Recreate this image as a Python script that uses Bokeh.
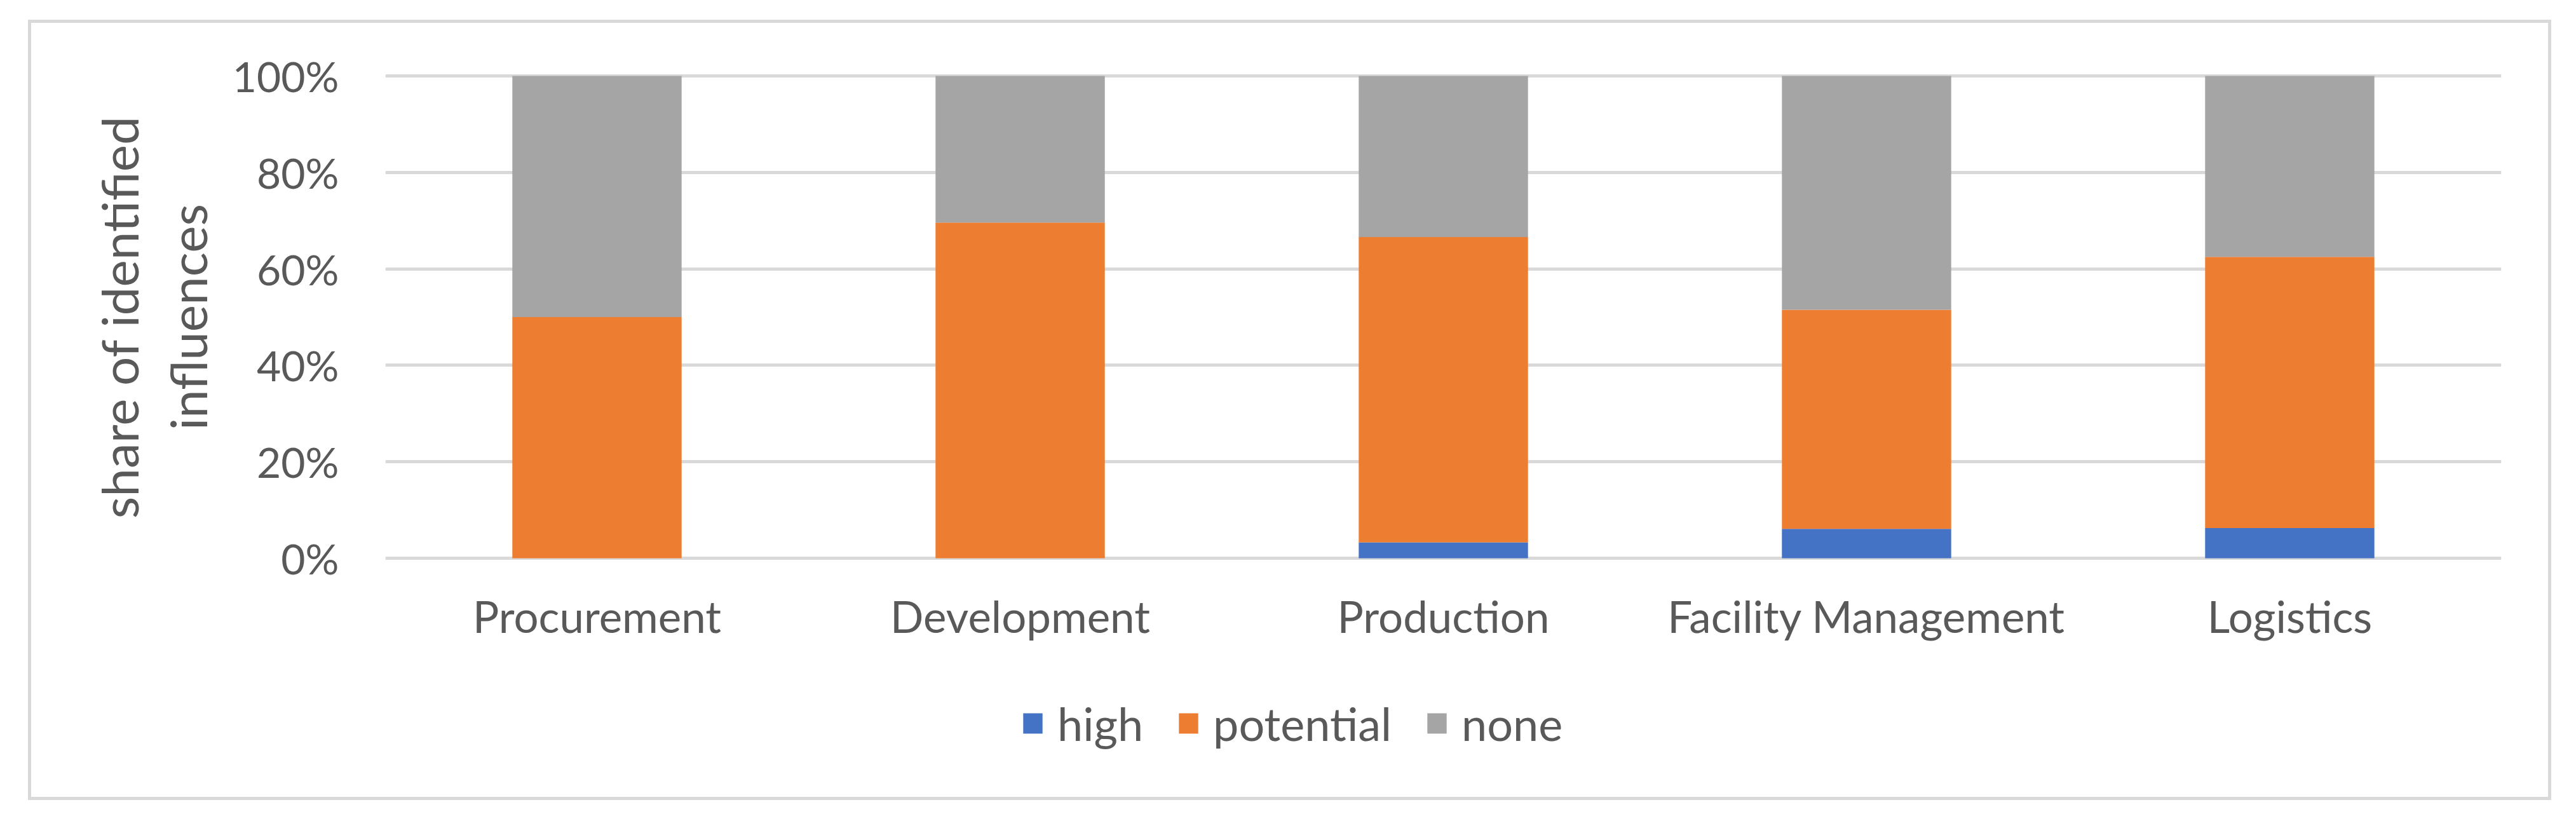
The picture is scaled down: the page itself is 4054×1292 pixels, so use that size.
from bokeh.plotting import figure
from bokeh.models import FactorRange, Range1d, NumeralTickFormatter, FixedTicker, Legend, LegendItem
from bokeh.layouts import column
from bokeh.embed import file_html
from bokeh.resources import INLINE

categories = ["Procurement", "Development", "Production", "Facility Management", "Logistics"]
high = [0.0, 0.0, 0.033, 0.061, 0.0625]
potential = [0.50, 0.696, 0.633, 0.454, 0.5625]
none = [0.50, 0.304, 0.334, 0.485, 0.375]
series = ["high", "potential", "none"]
colors = ["#4472C4", "#ED7D31", "#A5A5A5"]
y_ticks = [0, 0.2, 0.4, 0.6, 0.8, 1.0]

FONT = "Lato"
TXT = "#595959"
GRID = "#D9D9D9"
BORDER = "5px solid #D9D9D9"

p = figure(
    x_range=FactorRange(*categories, range_padding=0),
    y_range=Range1d(-0.004, 1.004),
    width=3971, height=999,
    output_backend="svg", toolbar_location=None,
    min_border_left=557, min_border_right=84, min_border_top=80, min_border_bottom=154,
)
p.margin = (31, 0, 0, 44)
p.styles = {"border-top": BORDER, "border-left": BORDER, "border-right": BORDER}

data = {"cat": categories, "high": high, "potential": potential, "none": none}
p.vbar_stack(series, x="cat", width=0.4, color=colors, source=data, line_width=0)

p.outline_line_color = None
p.xgrid.grid_line_color = None
p.ygrid.grid_line_color = GRID
p.ygrid.grid_line_width = 5
p.ygrid.ticker = FixedTicker(ticks=y_ticks)

p.yaxis.ticker = FixedTicker(ticks=y_ticks)
p.yaxis.formatter = NumeralTickFormatter(format="0%")
for ax in (p.xaxis, p.yaxis):
    ax.axis_line_color = None
    ax.major_tick_line_color = None
    ax.minor_tick_line_color = None
    ax.major_label_text_font = FONT
    ax.major_label_text_color = TXT
p.xaxis.major_label_text_font_size = "69px"
p.yaxis.major_label_text_font_size = "66px"
p.yaxis.major_label_standoff = 67
p.xaxis.major_label_standoff = 40
p.yaxis.axis_label = "share of identified\ninfluences"
p.yaxis.axis_label_text_font = FONT
p.yaxis.axis_label_text_font_size = "80px"
p.yaxis.axis_label_text_font_style = "normal"
p.yaxis.axis_label_text_color = TXT
p.yaxis.axis_label_text_line_height = 1.12
p.yaxis.axis_label_standoff = 20

# legend strip below the chart
lf = figure(
    x_range=Range1d(0, 1), y_range=Range1d(0, 1),
    width=3971, height=229,
    output_backend="svg", toolbar_location=None,
    x_axis_type=None, y_axis_type=None,
    min_border_left=0, min_border_right=0, min_border_top=0, min_border_bottom=0,
)
lf.margin = (0, 0, 0, 44)
lf.styles = {"border-bottom": BORDER, "border-left": BORDER, "border-right": BORDER}
lf.outline_line_color = None
lf.grid.visible = False
dummies = [lf.vbar(x=[-5], top=[-5], bottom=[-6], width=0.1, fill_color=c, line_color=None)
           for c in colors]

legend = Legend(
    items=[LegendItem(label=s, renderers=[r]) for s, r in zip(series, dummies)],
    orientation="horizontal",
    location=(1000, 78),
    glyph_width=38, glyph_height=40,
    label_text_font=FONT, label_text_font_size="72px", label_text_color=TXT,
    label_standoff=20, spacing=52, padding=0, margin=0,
    border_line_color=None, background_fill_alpha=0,
)
lf.add_layout(legend, "center")

layout = column(p, lf, spacing=0)
open("out.html", "w").write(file_html(layout, INLINE))
